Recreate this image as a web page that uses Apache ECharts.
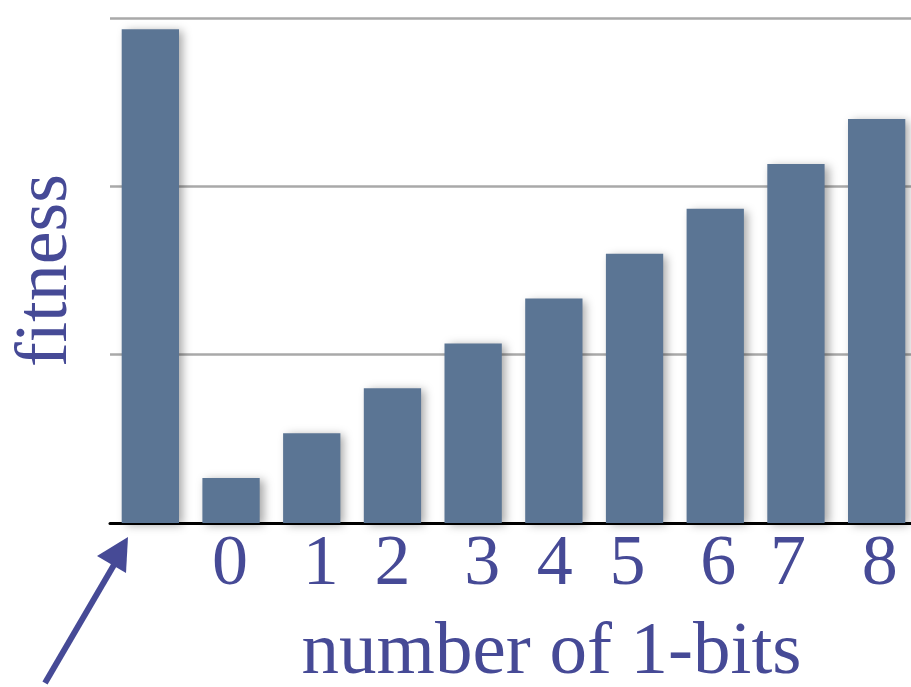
<!DOCTYPE html>
<html>
<head>
<meta charset="utf-8">
<style>
  html, body { margin: 0; padding: 0; background: #ffffff; overflow: hidden; }
  #chart { width: 911px; height: 687px; }
</style>
<script src="https://cdn.jsdelivr.net/npm/echarts@6/dist/echarts.min.js"></script>
</head>
<body>
<div id="chart"></div>
<script>
// First category is the deceptive optimum (unlabelled), then counts of 1-bits 0..8
const categories = ['', '0', '1', '2', '3', '4', '5', '6', '7', '8'];
const fitness = [11, 1, 2, 3, 4, 5, 6, 7, 8, 9];
const yMax = 11.25;
const yStep = 3.75;

// small horizontal nudges for the hand-placed digit labels
const labelShift = { '0': -1, '1': 9, '2': 0, '3': 9, '4': 1, '5': -7, '6': 3, '7': -8, '8': 3 };

const ink = '#464a96';
const serif = '"Liberation Serif", "DejaVu Serif", serif';
const big = 72;

const rich = {};
Object.keys(labelShift).forEach(function (k) {
  const s = labelShift[k];
  rich['d' + k] = {
    fontFamily: serif, fontSize: big, color: ink,
    padding: s >= 0 ? [0, 0, 0, 2 * s] : [0, -2 * s, 0, 0]
  };
});

const chart = echarts.init(document.getElementById('chart'), null, { renderer: 'canvas' });
chart.setOption({
  animation: false,
  grid: { left: 110, right: -6, top: 18, bottom: 164, containLabel: false, outerBoundsMode: 'none' },
  xAxis: {
    type: 'category',
    data: categories,
    axisLine: { lineStyle: { color: '#000000', width: 3 } },
    axisTick: { show: false },
    axisLabel: {
      interval: 0,
      hideOverlap: false,
      margin: 6,
      fontFamily: serif, fontSize: big, color: ink,
      formatter: function (v) {
        if (v === '') return '';
        return '{d' + v + '|' + v + '}';
      },
      rich: rich
    },
    name: 'number of 1-bits',
    nameLocation: 'middle',
    nameGap: 93,
    nameTextStyle: { fontFamily: serif, fontSize: 75, color: ink, padding: [0, 0, 0, 76] }
  },
  yAxis: {
    type: 'value',
    min: 0, max: yMax, interval: yStep,
    axisLine: { show: false },
    axisTick: { show: false },
    axisLabel: { show: false },
    splitLine: { lineStyle: { color: '#a9a9a9', width: 2.5 } },
    name: 'fitness',
    nameLocation: 'middle',
    nameRotate: 90,
    nameGap: 26,
    nameTextStyle: { fontFamily: serif, fontSize: 74, color: ink }
  },
  series: [{
    type: 'bar',
    data: fitness,
    barCategoryGap: '29%',
    itemStyle: {
      color: '#5b7594',
      shadowColor: 'rgba(0,0,0,0.35)',
      shadowBlur: 9,
      shadowOffsetX: 4,
      shadowOffsetY: 2
    }
  }],
  graphic: [
    {
      type: 'line',
      shape: { x1: 45, y1: 683, x2: 118, y2: 558 },
      style: { stroke: ink, lineWidth: 6 }
    },
    {
      type: 'polygon',
      shape: { points: [[128, 537], [126, 573], [97, 556]] },
      style: { fill: ink }
    }
  ]
});
</script>
</body>
</html>
